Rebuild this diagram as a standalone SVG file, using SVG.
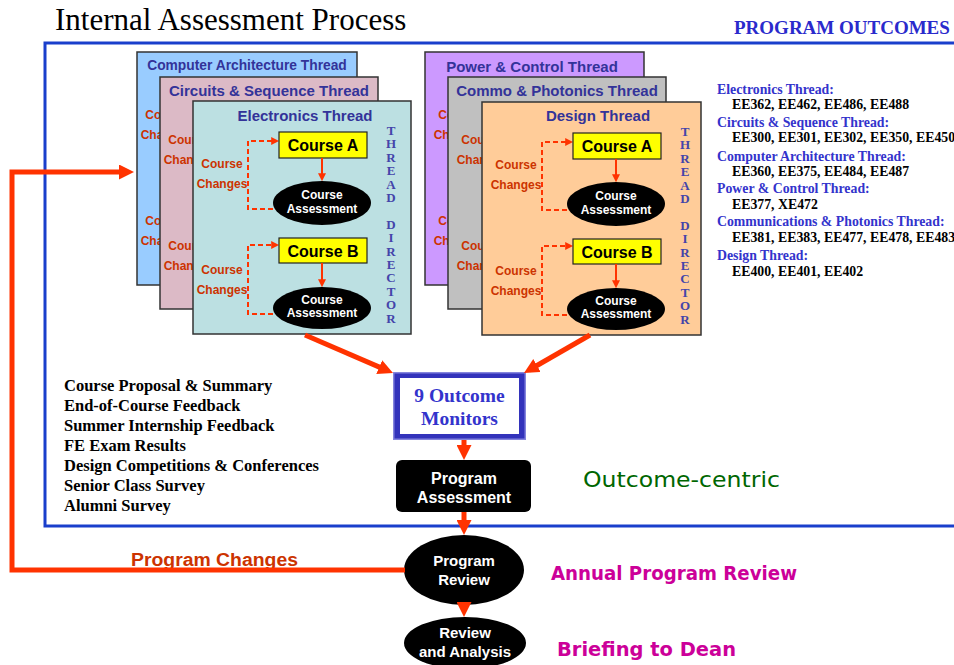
<svg xmlns="http://www.w3.org/2000/svg" xmlns:xlink="http://www.w3.org/1999/xlink" width="954" height="665" viewBox="0 0 954 665">
<style>
.card{stroke:#333;stroke-width:1.5}
.ttl{font-family:"Liberation Sans",Arial,sans-serif;font-weight:bold;font-size:15px;fill:#333399;text-anchor:middle}
.chg{font-family:"Liberation Sans",Arial,sans-serif;font-weight:bold;font-size:12px;fill:#cc3300;text-anchor:middle}
.box{fill:#ffff00;stroke:#222;stroke-width:1.2}
.boxt{font-family:"Liberation Sans",Arial,sans-serif;font-weight:bold;font-size:16px;fill:#000;text-anchor:middle}
.ellt{font-family:"Liberation Sans",Arial,sans-serif;font-weight:bold;font-size:12px;fill:#fff;text-anchor:middle}
.ellt2{font-family:"Liberation Sans",Arial,sans-serif;font-weight:bold;font-size:15px;fill:#fff;text-anchor:middle}
.dash{fill:none;stroke:#ff3300;stroke-width:2;stroke-dasharray:5 3}
.thin{fill:none;stroke:#ff3300;stroke-width:2}
.thick{fill:none;stroke:#ff3300;stroke-width:5}
.td{font-family:"Liberation Serif","Times New Roman",serif;font-weight:bold;font-size:13px;fill:#4444aa;text-anchor:middle}
.lst{font-family:"Liberation Serif","Times New Roman",serif;font-weight:bold;font-size:16.5px;fill:#000}
.oh{font-family:"Liberation Serif","Times New Roman",serif;font-weight:bold;font-size:13.8px;fill:#3333cc}
.oc{font-family:"Liberation Serif","Times New Roman",serif;font-weight:bold;font-size:13.8px;fill:#000}
.comic{font-family:"DejaVu Sans",sans-serif;font-weight:bold}
</style>
<defs>
<marker id="ah" viewBox="0 0 10 10" refX="6" refY="5" markerWidth="3" markerHeight="3" orient="auto" markerUnits="strokeWidth"><path d="M0,0 L10,5 L0,10 z" fill="#ff3300"/></marker>
<marker id="ahs" viewBox="0 0 10 10" refX="6" refY="5" markerWidth="4" markerHeight="4" orient="auto" markerUnits="strokeWidth"><path d="M0,0 L10,5 L0,10 z" fill="#ff3300"/></marker>
<g id="flow">
  <text class="chg" x="29" y="67">Course</text>
  <text class="chg" x="29" y="87">Changes</text>
  <text class="chg" x="29" y="173">Course</text>
  <text class="chg" x="29" y="193">Changes</text>
  <path class="dash" d="M80,108 H55 V40 H83" marker-end="url(#ahs)"/>
  <path class="dash" d="M80,213 H55 V144 H83" marker-end="url(#ahs)"/>
  <rect class="box" x="86" y="31" width="88" height="26"/>
  <text class="boxt" x="130" y="50">Course A</text>
  <path class="thin" d="M129,57 V77" marker-end="url(#ahs)"/>
  <ellipse cx="129" cy="102" rx="49" ry="22" fill="#000"/>
  <text class="ellt" x="129" y="98">Course</text>
  <text class="ellt" x="129" y="112">Assessment</text>
  <rect class="box" x="86" y="137" width="88" height="25"/>
  <text class="boxt" x="130" y="155.5">Course B</text>
  <path class="thin" d="M129,162 V183" marker-end="url(#ahs)"/>
  <ellipse cx="129" cy="207" rx="49" ry="21" fill="#000"/>
  <text class="ellt" x="129" y="203">Course</text>
  <text class="ellt" x="129" y="216">Assessment</text>
  <text class="td"><tspan x="198" y="34">T</tspan><tspan x="198" y="47.4">H</tspan><tspan x="198" y="60.8">R</tspan><tspan x="198" y="74.2">E</tspan><tspan x="198" y="87.6">A</tspan><tspan x="198" y="101">D</tspan><tspan x="198" y="127.8">D</tspan><tspan x="198" y="141.2">I</tspan><tspan x="198" y="154.6">R</tspan><tspan x="198" y="168">E</tspan><tspan x="198" y="181.4">C</tspan><tspan x="198" y="194.8">T</tspan><tspan x="198" y="208.2">O</tspan><tspan x="198" y="221.6">R</tspan></text>
</g>
</defs>

<rect width="954" height="665" fill="#fff"/>

<g id="title">
  <text x="55" y="30" font-family="Liberation Serif, Times New Roman, serif" font-size="31" fill="#000">Internal Assessment Process</text>
  <text x="734" y="34" font-family="Liberation Serif, Times New Roman, serif" font-weight="bold" font-size="19" fill="#2a2acc">PROGRAM OUTCOMES</text>
</g>

<g id="frame">
  <path d="M954,43 H45 V526 H954" fill="none" stroke="#1a3fcc" stroke-width="3"/>
</g>

<g id="left-stack">
  <g id="computer-architecture">
    <rect class="card" x="137" y="52" width="220" height="233" fill="#99ccff"/>
    <text class="ttl" x="247" y="70" style="font-size:13.8px">Computer Architecture Thread</text>
    <use xlink:href="#flow" href="#flow" transform="translate(137,52)"/>
  </g>
  <g id="circuits-sequence">
    <rect class="card" x="160" y="77" width="218" height="232" fill="#dcbac6"/>
    <text class="ttl" x="269" y="96">Circuits &amp; Sequence Thread</text>
    <use xlink:href="#flow" href="#flow" transform="translate(160,77)"/>
  </g>
  <g id="electronics">
    <rect class="card" x="193" y="101" width="218" height="233" fill="#bce0e2"/>
    <text class="ttl" x="305" y="121">Electronics Thread</text>
    <use xlink:href="#flow" href="#flow" transform="translate(193,101)"/>
  </g>
</g>

<g id="right-stack">
  <g id="power-control">
    <rect class="card" x="425" y="52" width="219" height="233" fill="#cc99ff"/>
    <text class="ttl" x="532" y="72">Power &amp; Control Thread</text>
    <use xlink:href="#flow" href="#flow" transform="translate(430,52)"/>
  </g>
  <g id="commo-photonics">
    <rect class="card" x="448" y="77" width="218" height="232" fill="#c0c0c0"/>
    <text class="ttl" x="557" y="96">Commo &amp; Photonics Thread</text>
    <use xlink:href="#flow" href="#flow" transform="translate(453,77)"/>
  </g>
  <g id="design">
    <rect class="card" x="482" y="102" width="219" height="233" fill="#ffcc99"/>
    <text class="ttl" x="598" y="121">Design Thread</text>
    <use xlink:href="#flow" href="#flow" transform="translate(487,102)"/>
  </g>
</g>

<g id="outcomes-list">
  <text class="oh" x="717" y="94">Electronics Thread:</text>
  <text class="oc" x="732" y="109">EE362, EE462, EE486, EE488</text>
  <text class="oh" x="717" y="127">Circuits &amp; Sequence Thread:</text>
  <text class="oc" x="732" y="142">EE300, EE301, EE302, EE350, EE450</text>
  <text class="oh" x="717" y="161">Computer Architecture Thread:</text>
  <text class="oc" x="732" y="176">EE360, EE375, EE484, EE487</text>
  <text class="oh" x="717" y="193">Power &amp; Control Thread:</text>
  <text class="oc" x="732" y="209">EE377, XE472</text>
  <text class="oh" x="717" y="226">Communications &amp; Photonics Thread:</text>
  <text class="oc" x="732" y="242">EE381, EE383, EE477, EE478, EE483</text>
  <text class="oh" x="717" y="260">Design Thread:</text>
  <text class="oc" x="732" y="276">EE400, EE401, EE402</text>
</g>

<g id="inputs-list">
  <text class="lst" x="64" y="391">Course Proposal &amp; Summary</text>
  <text class="lst" x="64" y="411">End-of-Course Feedback</text>
  <text class="lst" x="64" y="431">Summer Internship Feedback</text>
  <text class="lst" x="64" y="451">FE Exam Results</text>
  <text class="lst" x="64" y="471">Design Competitions &amp; Conferences</text>
  <text class="lst" x="64" y="491">Senior Class Survey</text>
  <text class="lst" x="64" y="511">Alumni Survey</text>
</g>

<g id="outcome-monitors">
  <rect x="393" y="372" width="133" height="68" fill="#8585dd"/>
  <rect x="394.5" y="373.5" width="130" height="65" fill="#3333bb"/>
  <rect x="400" y="378" width="119" height="56" fill="#fff"/>
  <text x="459.5" y="402" font-family="Liberation Serif, Times New Roman, serif" font-weight="bold" font-size="19.5" fill="#3333cc" text-anchor="middle">9 Outcome</text>
  <text x="459.5" y="425" font-family="Liberation Serif, Times New Roman, serif" font-weight="bold" font-size="19.5" fill="#3333cc" text-anchor="middle">Monitors</text>
</g>

<g id="program-assessment">
  <rect x="396" y="460" width="135" height="52" rx="6" fill="#000"/>
  <text class="ellt2" x="464" y="484" style="font-size:16px">Program</text>
  <text class="ellt2" x="464" y="503" style="font-size:16px">Assessment</text>
</g>

<g id="outcome-centric">
  <text x="583" y="487" font-family="DejaVu Sans, sans-serif" font-size="22" fill="#006600" textLength="197" lengthAdjust="spacingAndGlyphs">Outcome-centric</text>
</g>

<g id="program-review">
  <ellipse cx="464" cy="570" rx="60" ry="35" fill="#000"/>
  <text class="ellt2" x="464" y="566">Program</text>
  <text class="ellt2" x="464" y="585">Review</text>
</g>

<g id="review-analysis">
  <ellipse cx="465" cy="643" rx="61" ry="26" fill="#000"/>
  <text class="ellt2" x="465" y="638">Review</text>
  <text class="ellt2" x="465" y="657">and Analysis</text>
</g>

<g id="labels">
  <text class="comic" x="551" y="580" font-size="19" fill="#cc0099" textLength="246" lengthAdjust="spacingAndGlyphs">Annual Program Review</text>
  <text class="comic" x="557" y="656" font-size="19" fill="#cc0099" textLength="179" lengthAdjust="spacingAndGlyphs">Briefing to Dean</text>
  <text x="131" y="566" font-family="Liberation Sans, Arial, sans-serif" font-weight="bold" font-size="18" fill="#cc3300" textLength="167" lengthAdjust="spacingAndGlyphs">Program Changes</text>
</g>

<g id="connectors">
  <path class="thick" d="M305,335 L387.5,370.6" marker-end="url(#ah)"/>
  <path class="thick" d="M590,335 L529.2,370" marker-end="url(#ah)"/>
  <path class="thick" d="M464,440 V454" marker-end="url(#ah)"/>
  <path class="thick" d="M464,512 V529" marker-end="url(#ah)"/>
  <path class="thick" d="M464,605 V611" marker-end="url(#ah)"/>
  <path class="thick" d="M405,570 H12 V172 H128" marker-end="url(#ah)"/>
</g>
</svg>
